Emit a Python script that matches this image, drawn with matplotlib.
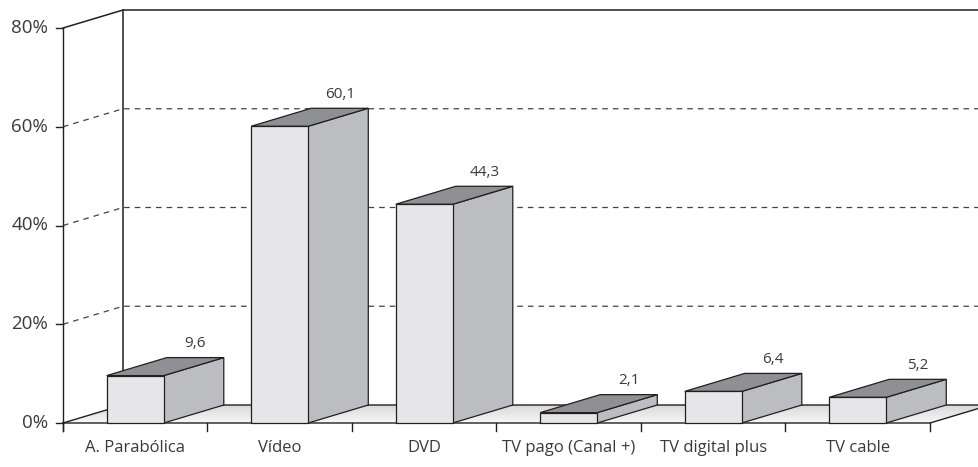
import numpy as np
import matplotlib.pyplot as plt
from matplotlib.patches import Polygon

plt.rcParams['font.family'] = ['Open Sans', 'DejaVu Sans']

categories = ['A. Parabólica', 'Vídeo', 'DVD', 'TV pago (Canal +)', 'TV digital plus', 'TV cable']
values = [9.6, 60.1, 44.3, 2.1, 6.4, 5.2]
y_ticks = [0, 20, 40, 60, 80]
y_tick_labels = ['0%', '20%', '40%', '60%', '80%']

# layout (pixels of the 979x467 picture)
W, H = 979, 467
x0_px, y0_px = 63, 423      # origin of the front plane
cat_px = 144.5              # width of one category
pct_px = 4.9375             # pixels per percent
DX, DY = 60 / cat_px, 18 / pct_px   # depth offset in data units
bar_w = 0.395
ink = '#231f20'
txt = '#3a3a3a'

fig = plt.figure(figsize=(W / 100, H / 100), dpi=100)
ax = fig.add_axes([0, 0, 1, 1])
ax.axis('off')
xlim = (-x0_px / cat_px, (W - x0_px) / cat_px)
ylim = (-(H - y0_px) / pct_px, y0_px / pct_px)
n = len(categories)
xr = xlim[1]
top = y_ticks[-1]

# floor with a soft gradient
floor = Polygon([(0, 0), (n, 0), (n + DX, DY), (DX, DY)], closed=True,
                facecolor='none', edgecolor='none')
ax.add_patch(floor)
grad = np.linspace(0.85, 0.97, 40).reshape(-1, 1)
img = ax.imshow(np.dstack([grad, grad, grad]), extent=[0, n + DX, 0, DY],
                origin='upper', aspect='auto', zorder=1)
img.set_clip_path(floor)

# dashed grid on left wall and back wall
for v in y_ticks[1:-1]:
    ax.plot([0, DX, xr], [v, v + DY, v + DY], ls=(0, (4.5, 4)), color='#444444',
            lw=0.9, zorder=2)

# walls
ax.plot([DX, DX], [DY, top + DY], color=ink, lw=1.1, zorder=2)
ax.plot([0, DX, xr], [top, top + DY, top + DY], color=ink, lw=1.1, zorder=2)
ax.plot([0, 0], [top, -8 / pct_px], color=ink, lw=1.0, zorder=5)
for v, lab in zip(y_ticks, y_tick_labels):
    ax.plot([-7 / cat_px, 0], [v, v], color=ink, lw=1.0, zorder=5)
    ax.text(-15 / cat_px, v, lab, ha='right', va='center', fontsize=13.5, color=txt)

# floor edges
ax.plot([0, n, n + DX], [0, 0, DY], color=ink, lw=1.0, zorder=2)
ax.plot([0, DX, n + DX], [0, DY, DY], color=ink, lw=1.0, zorder=2)
for i in range(n + 1):
    ax.plot([i, i], [0, -8 / pct_px], color=ink, lw=1.0, zorder=5)

# bars
for i, (cat, v) in enumerate(zip(categories, values)):
    c = i + 0.5
    l, r = c - bar_w / 2, c + bar_w / 2
    front = Polygon([(l, 0), (r, 0), (r, v), (l, v)], closed=True,
                    facecolor='#e6e6e8', edgecolor=ink, lw=0.9, zorder=4)
    side = Polygon([(r, 0), (r + DX, DY), (r + DX, v + DY), (r, v)], closed=True,
                   facecolor='#bcbdc1', edgecolor=ink, lw=0.9, zorder=4)
    lid = Polygon([(l, v), (r, v), (r + DX, v + DY), (l + DX, v + DY)], closed=True,
                  facecolor='#8f9094', edgecolor=ink, lw=0.9, zorder=4)
    for p in (side, lid, front):
        ax.add_patch(p)
    ax.annotate(f'{v:.1f}'.replace('.', ','), (c + DX, v + DY), xytext=(0, 10),
                textcoords='offset points', ha='center', va='center',
                fontsize=11, color=txt)
    ax.text(c, -25 / pct_px, cat, ha='center', va='center', fontsize=12, color=txt)

ax.set_xlim(xlim)
ax.set_ylim(ylim)
fig.savefig('out.png', dpi=100)
